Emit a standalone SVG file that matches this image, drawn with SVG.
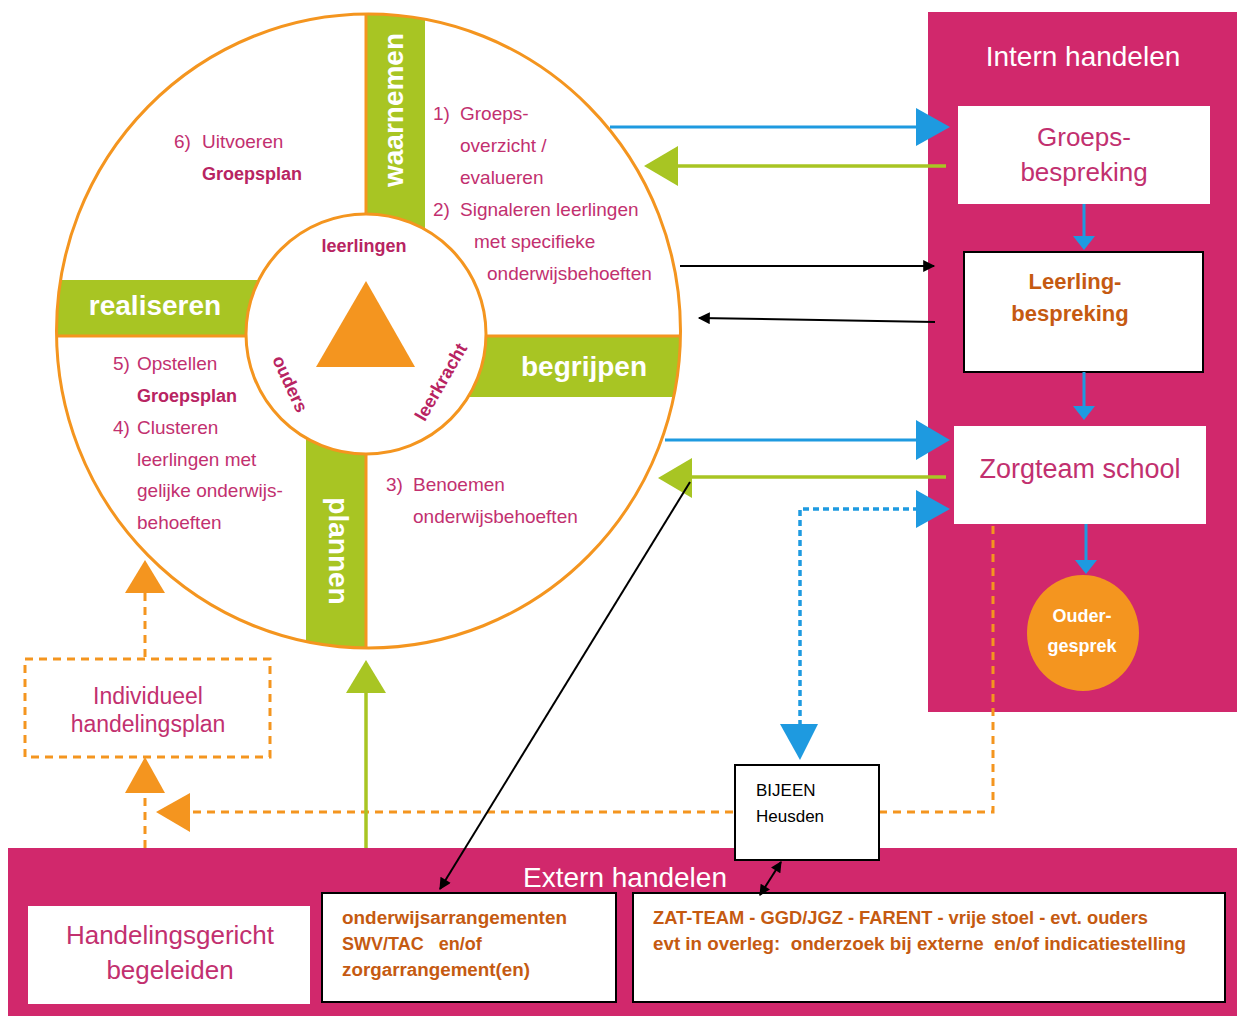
<svg xmlns="http://www.w3.org/2000/svg" width="1237" height="1016" viewBox="0 0 1237 1016">
<style>
.q{font-family:"Liberation Sans",Arial,sans-serif;font-size:19px;fill:#C2306F}
.qb{font-family:"Liberation Sans",Arial,sans-serif;font-size:18px;font-weight:bold;fill:#B82462}
.bar{font-family:"Liberation Sans",Arial,sans-serif;font-size:28px;font-weight:bold;fill:#fff}
.mag{font-family:"Liberation Sans",Arial,sans-serif;fill:#C2306F}
.wt{font-family:"Liberation Sans",Arial,sans-serif;fill:#fff}
.br{font-family:"Liberation Sans",Arial,sans-serif;font-weight:bold;fill:#C55A11}
.blk{font-family:"Liberation Sans",Arial,sans-serif;fill:#000}
.panel{fill:#D1286C}
.wbox{fill:#fff}
.bbox{fill:#fff;stroke:#000;stroke-width:2}
.blue{stroke:#1E9AE0;stroke-width:3;fill:none}
.green{stroke:#A8C523;stroke-width:3.5;fill:none}
.odash{stroke:#F4951F;stroke-width:3;fill:none;stroke-dasharray:8 6}
.bdash{stroke:#1E9AE0;stroke-width:3.5;fill:none;stroke-dasharray:6 4}
.black{stroke:#000;stroke-width:2;fill:none}
</style>
<defs>
<clipPath id="outer"><ellipse cx="368.5" cy="331" rx="312" ry="317"/></clipPath>
<marker id="ah" viewBox="0 0 10 10" refX="9" refY="5" markerWidth="14" markerHeight="12" markerUnits="userSpaceOnUse" orient="auto-start-reverse"><path d="M0,0 L10,5 L0,10 z" fill="#000"/></marker>
<marker id="ahs" viewBox="0 0 10 10" refX="9" refY="5" markerWidth="12" markerHeight="11" markerUnits="userSpaceOnUse" orient="auto-start-reverse"><path d="M0,0 L10,5 L0,10 z" fill="#000"/></marker>
</defs>

<!-- panels -->
<g id="intern">
<rect class="panel" x="928" y="12" width="309" height="700"/>
<text class="wt" x="1083" y="66" font-size="28" text-anchor="middle">Intern handelen</text>
</g>
<g id="extern">
<rect class="panel" x="8" y="848" width="1229" height="168"/>
<text class="wt" x="625" y="887" font-size="28" text-anchor="middle">Extern handelen</text>
</g>

<!-- wheel -->
<g id="wheel">
<ellipse cx="368.5" cy="331" rx="312" ry="317" fill="#fff"/>
<g clip-path="url(#outer)">
<rect x="366" y="0" width="59" height="336" fill="#A8C523"/>
<rect x="306" y="336" width="60" height="400" fill="#A8C523"/>
<rect x="0" y="280" width="366" height="56" fill="#A8C523"/>
<rect x="366" y="336" width="400" height="61" fill="#A8C523"/>
<line x1="366" y1="0" x2="366" y2="700" stroke="#F4951F" stroke-width="3"/>
<line x1="0" y1="336" x2="700" y2="336" stroke="#F4951F" stroke-width="3"/>
</g>
<ellipse cx="368.5" cy="331" rx="312" ry="317" fill="none" stroke="#F4951F" stroke-width="3"/>
<circle cx="366" cy="334" r="120" fill="#fff" stroke="#F4951F" stroke-width="3"/>
<polygon points="366,281 316,367 415,367" fill="#F4951F"/>
<text class="qb" x="364" y="252" text-anchor="middle">leerlingen</text>
<text class="qb" transform="translate(290,384) rotate(65)" text-anchor="middle" dominant-baseline="central">ouders</text>
<text class="qb" transform="translate(441,382) rotate(-60)" text-anchor="middle" dominant-baseline="central">leerkracht</text>
<text class="bar" transform="translate(393,110) rotate(-90)" text-anchor="middle" dominant-baseline="central">waarnemen</text>
<text class="bar" x="155" y="315" text-anchor="middle">realiseren</text>
<text class="bar" x="584" y="376" text-anchor="middle">begrijpen</text>
<text class="bar" transform="translate(338,551) rotate(90)" text-anchor="middle" dominant-baseline="central">plannen</text>
<!-- quadrant texts -->
<text class="q" x="433" y="120">1)</text><text class="q" x="460" y="120">Groeps-</text>
<text class="q" x="460" y="152">overzicht /</text>
<text class="q" x="460" y="184">evalueren</text>
<text class="q" x="433" y="216">2)</text><text class="q" x="460" y="216">Signaleren leerlingen</text>
<text class="q" x="474" y="248">met specifieke</text>
<text class="q" x="487" y="280">onderwijsbehoeften</text>
<text class="q" x="174" y="148">6)</text><text class="q" x="202" y="148">Uitvoeren</text>
<text class="qb" x="202" y="180">Groepsplan</text>
<text class="q" x="113" y="370">5)</text><text class="q" x="137" y="370">Opstellen</text>
<text class="qb" x="137" y="402">Groepsplan</text>
<text class="q" x="113" y="434">4)</text><text class="q" x="137" y="434">Clusteren</text>
<text class="q" x="137" y="466">leerlingen met</text>
<text class="q" x="137" y="497">gelijke onderwijs-</text>
<text class="q" x="137" y="529">behoeften</text>
<text class="q" x="386" y="491">3)</text><text class="q" x="413" y="491">Benoemen</text>
<text class="q" x="413" y="523">onderwijsbehoeften</text>
</g>

<!-- nodes -->
<g id="groepsbespreking">
<rect class="wbox" x="958" y="106" width="252" height="98"/>
<text class="mag" x="1084" y="146" font-size="26" text-anchor="middle">Groeps-</text>
<text class="mag" x="1084" y="181" font-size="26" text-anchor="middle">bespreking</text>
</g>
<g id="leerlingbespreking">
<rect class="bbox" x="964" y="252" width="239" height="120"/>
<text class="br" x="1075" y="289" font-size="22" text-anchor="middle">Leerling-</text>
<text class="br" x="1070" y="321" font-size="22" text-anchor="middle">bespreking</text>
</g>
<g id="zorgteam">
<rect class="wbox" x="954" y="426" width="252" height="98"/>
<text class="mag" x="1080" y="478" font-size="27" text-anchor="middle">Zorgteam school</text>
</g>
<g id="oudergesprek">
<ellipse cx="1083" cy="633" rx="56" ry="58" fill="#F4951F"/>
<text class="wt" x="1082" y="622" font-size="18" font-weight="bold" text-anchor="middle">Ouder-</text>
<text class="wt" x="1082" y="652" font-size="18" font-weight="bold" text-anchor="middle">gesprek</text>
</g>
<g id="individueel">
<rect x="25" y="659" width="245" height="98" fill="#fff" class="odash"/>
<text class="mag" x="148" y="704" font-size="23" text-anchor="middle">Individueel</text>
<text class="mag" x="148" y="732" font-size="23" text-anchor="middle">handelingsplan</text>
</g>
<g id="handelingsgericht">
<rect class="wbox" x="28" y="906" width="282" height="98"/>
<text class="mag" x="170" y="944" font-size="26" text-anchor="middle">Handelingsgericht</text>
<text class="mag" x="170" y="979" font-size="26" text-anchor="middle">begeleiden</text>
</g>
<g id="arrangementen">
<rect class="bbox" x="322" y="893" width="294" height="109"/>
<text class="br" x="342" y="924" font-size="18" textLength="225" lengthAdjust="spacingAndGlyphs">onderwijsarrangementen</text>
<text class="br" x="342" y="950" font-size="18" xml:space="preserve">SWV/TAC   en/of</text>
<text class="br" x="342" y="976" font-size="18" textLength="188" lengthAdjust="spacingAndGlyphs">zorgarrangement(en)</text>
</g>
<g id="zat">
<rect class="bbox" x="633" y="893" width="592" height="109"/>
<text class="br" x="653" y="924" font-size="18" textLength="495" lengthAdjust="spacingAndGlyphs">ZAT-TEAM - GGD/JGZ - FARENT - vrije stoel - evt. ouders</text>
<text class="br" x="653" y="950" font-size="18" textLength="533" lengthAdjust="spacingAndGlyphs" xml:space="preserve">evt in overleg:  onderzoek bij externe  en/of indicatiestelling</text>
</g>

<!-- connectors -->
<g id="connectors">
<line class="blue" x1="610" y1="127" x2="918" y2="127"/>
<polygon points="916,108 950,127 916,146" fill="#1E9AE0"/>
<line class="green" x1="946" y1="166" x2="676" y2="166"/>
<polygon points="644,166 678,146 678,186" fill="#A8C523"/>
<line class="black" x1="680" y1="266" x2="934" y2="266" marker-end="url(#ah)"/>
<line class="black" x1="935" y1="322" x2="699" y2="318" marker-end="url(#ah)"/>
<line class="blue" x1="1084" y1="204" x2="1084" y2="240"/>
<polygon points="1073,236 1084,250 1095,236" fill="#1E9AE0"/>
<line class="blue" x1="1084" y1="372" x2="1084" y2="410"/>
<polygon points="1073,406 1084,420 1095,406" fill="#1E9AE0"/>
<line class="blue" x1="1086" y1="524" x2="1086" y2="564"/>
<polygon points="1075,560 1086,574 1097,560" fill="#1E9AE0"/>
<line class="blue" x1="665" y1="440" x2="918" y2="440"/>
<polygon points="916,420 950,440 916,460" fill="#1E9AE0"/>
<line class="green" x1="946" y1="477" x2="690" y2="477"/>
<polygon points="658,478 692,458 692,498" fill="#A8C523"/>
<path class="bdash" d="M800,726 L800,509 L918,509"/>
<polygon points="916,490 950,509 916,528" fill="#1E9AE0"/>
<polygon points="780,724 818,724 800,760" fill="#1E9AE0"/>
<path class="odash" d="M993,526 L993,812 L190,812"/>
<polygon points="156,812 190,793 190,832" fill="#F4951F"/>
<line class="odash" x1="145" y1="848" x2="145" y2="793"/>
<polygon points="125,793 145,757 165,793" fill="#F4951F"/>
<line class="odash" x1="145" y1="657" x2="145" y2="593"/>
<polygon points="125,593 145,560 165,593" fill="#F4951F"/>
<line class="green" x1="366" y1="848" x2="366" y2="690"/>
<polygon points="346,693 366,660 386,693" fill="#A8C523"/>
<line class="black" x1="690" y1="482" x2="440" y2="889" marker-end="url(#ah)"/>
<line class="black" x1="781" y1="862" x2="760" y2="895" marker-start="url(#ahs)" marker-end="url(#ahs)"/>
</g>

<g id="bijeen">
<rect class="bbox" x="735" y="765" width="144" height="95"/>
<text class="blk" x="756" y="796" font-size="17">BIJEEN</text>
<text class="blk" x="756" y="822" font-size="17">Heusden</text>
</g>
</svg>
